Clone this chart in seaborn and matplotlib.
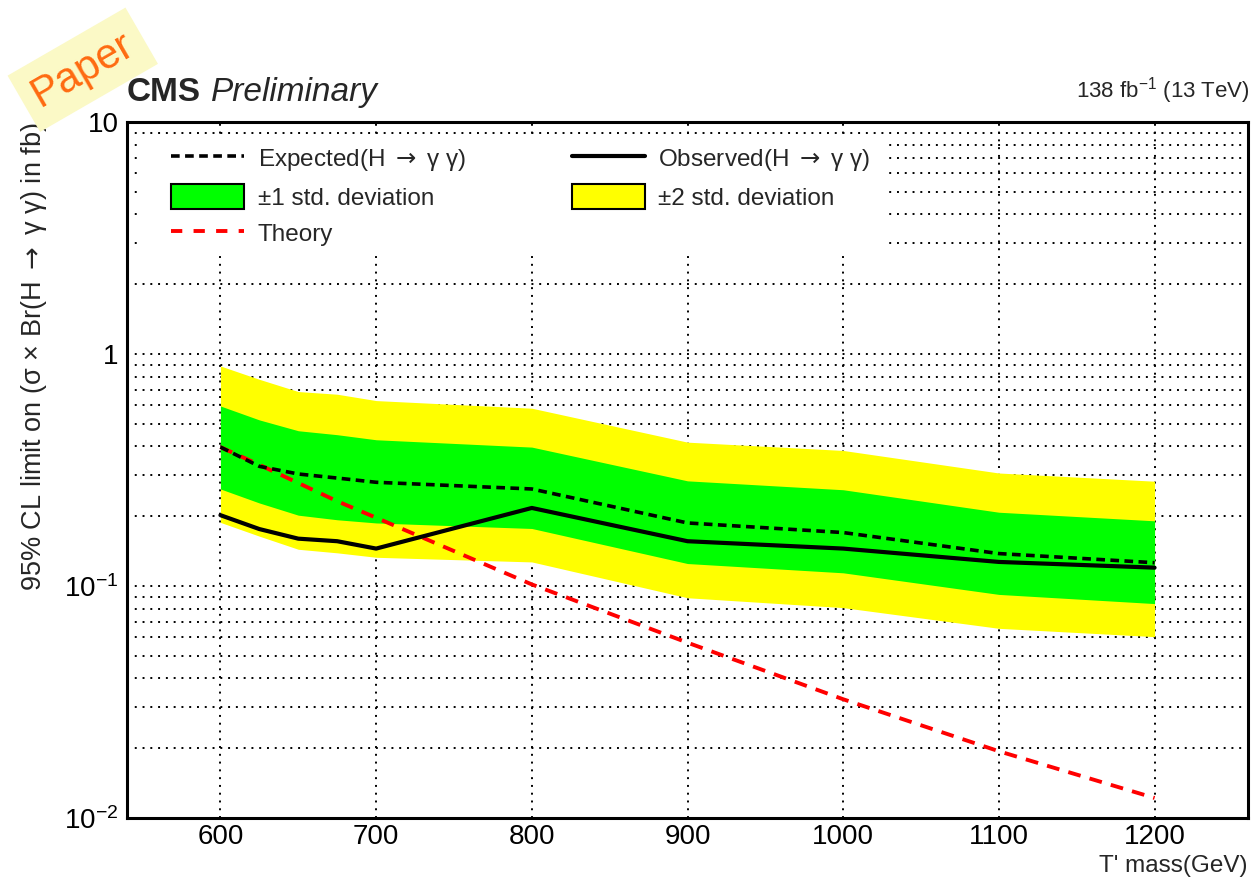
import numpy as np
import pandas as pd
import matplotlib
matplotlib.use("Agg")
import matplotlib.pyplot as plt
import seaborn as sns
from matplotlib.ticker import FixedLocator, FuncFormatter, MultipleLocator, LogLocator
from matplotlib.lines import Line2D
from matplotlib.patches import Patch, Rectangle

# T' mass points (GeV)
mass = [600, 625, 650, 675, 700, 800, 900, 1000, 1100, 1200]

# 95% CL limits on sigma x Br(H -> gamma gamma) in fb
observed = [0.202, 0.176, 0.160, 0.156, 0.145, 0.217, 0.156, 0.145, 0.127, 0.120]
expected = [0.397, 0.328, 0.304, 0.292, 0.280, 0.262, 0.187, 0.170, 0.138, 0.126]
band1_up = [0.597, 0.520, 0.467, 0.449, 0.427, 0.397, 0.284, 0.260, 0.208, 0.191]
band1_dn = [0.262, 0.228, 0.202, 0.193, 0.187, 0.177, 0.125, 0.114, 0.092, 0.084]
band2_up = [0.888, 0.778, 0.689, 0.671, 0.630, 0.584, 0.417, 0.384, 0.307, 0.283]
band2_dn = [0.188, 0.164, 0.144, 0.139, 0.133, 0.127, 0.089, 0.0807, 0.0657, 0.0605]
theory = [0.397, 0.333, 0.278, 0.232, 0.197, 0.1016, 0.057, 0.0325, 0.0194, 0.0122]

xticks = [600, 700, 800, 900, 1000, 1100, 1200]

df = pd.DataFrame({
    "mass": mass, "observed": observed, "expected": expected,
    "theory": theory,
})

sns.set_style("white")
plt.rcParams["font.family"] = ["Liberation Sans", "DejaVu Sans"]
plt.rcParams["mathtext.fontset"] = "custom"
plt.rcParams["mathtext.rm"] = "Liberation Sans"
plt.rcParams["mathtext.it"] = "Liberation Sans:italic"
plt.rcParams["mathtext.sf"] = "DejaVu Sans"

fig = plt.figure(figsize=(12.54, 8.83), dpi=100)
ax = fig.add_axes([0.1013, 0.0736, 0.8939, 0.7882])

green = "#00ff00"
yellow = "#ffff00"
exp_dash = (0, (2.4, 1.5))
th_dash = (0, (3.3, 2.4))
ARROW = r"$\mathsf{\rightarrow}$"

ax.fill_between(mass, band2_dn, band2_up, color=yellow, lw=0, zorder=2)
ax.fill_between(mass, band1_dn, band1_up, color=green, lw=0, zorder=3)

sns.lineplot(data=df, x="mass", y="expected", ax=ax, color="black", lw=2.6,
             linestyle=exp_dash, zorder=5)
sns.lineplot(data=df, x="mass", y="observed", ax=ax, color="black", lw=3.0,
             zorder=6)
sns.lineplot(data=df, x="mass", y="theory", ax=ax, color="#ff0000", lw=2.8,
             linestyle=th_dash, zorder=4)

ax.set_yscale("log")
ax.set_xlim(540, 1260)
ax.set_ylim(0.01, 10)

# ticks
ax.xaxis.set_major_locator(FixedLocator(xticks))
ax.xaxis.set_minor_locator(MultipleLocator(20))
ax.yaxis.set_major_locator(LogLocator(base=10, numticks=10))
ax.yaxis.set_minor_locator(LogLocator(base=10, subs=np.arange(2, 10), numticks=20))


def ylab(v, pos):
    e = int(round(np.log10(v)))
    if e == 0:
        return "1"
    if e == 1:
        return "10"
    return r"$10^{%d}$" % e


ax.yaxis.set_major_formatter(FuncFormatter(ylab))
ax.yaxis.set_minor_formatter(FuncFormatter(lambda v, p: ""))
ax.tick_params(axis="both", which="both", direction="in", colors="black",
               labelsize=20, width=1.5, top=False, right=False)
ax.tick_params(axis="x", which="major", length=15, pad=4)
ax.tick_params(axis="x", which="minor", length=8)
ax.tick_params(axis="y", which="major", length=24, pad=6)
ax.tick_params(axis="y", which="minor", length=12)

ax.grid(True, which="major", axis="x", color="black", lw=1.4, linestyle=(0, (1, 3)))
ax.grid(True, which="both", axis="y", color="black", lw=1.4, linestyle=(0, (1, 3)))
for line in ax.get_xgridlines() + ax.get_ygridlines():
    line.set_zorder(1.5)

for s in ax.spines.values():
    s.set_color("black")
    s.set_linewidth(2.2)
    s.set_zorder(10)

ax.set_xlabel("T' mass(GeV)", loc="right", fontsize=17.5, labelpad=4)
ax.set_ylabel("95% CL limit on (σ × Br(H " + ARROW + " γ γ) in fb)", loc="top",
              fontsize=19.5, labelpad=11)

# white legend background hiding the grid
ax.add_patch(Rectangle((0.0134, 0.813), 0.662, 0.1655, transform=ax.transAxes,
                       facecolor="white", edgecolor="none", zorder=1.8))

handles = [
    Line2D([], [], color="black", lw=2.6, linestyle=exp_dash),
    Patch(facecolor=green, edgecolor="black", lw=1.5),
    Line2D([], [], color="#ff0000", lw=2.8, linestyle=(0, (2.9, 2.9))),
    Line2D([], [], color="black", lw=3.0),
    Patch(facecolor=yellow, edgecolor="black", lw=1.5),
]
labels = [
    "Expected(H " + ARROW + " γ γ)", "±1 std. deviation", "Theory",
    "Observed(H " + ARROW + " γ γ)", "±2 std. deviation",
]
leg = ax.legend(handles, labels, ncol=2, frameon=False, fontsize=17.5,
                loc="upper left", bbox_to_anchor=(0.0309, 0.980),
                handlelength=3.0, handleheight=1.15, handletextpad=0.55,
                columnspacing=4.37, labelspacing=0.47, borderaxespad=0,
                borderpad=0.4)
leg.set_zorder(8)

# header texts
fig.text(0.1013, 0.8856, "CMS", fontsize=24, fontweight="bold", ha="left", va="baseline")
fig.text(0.1683, 0.8856, "Preliminary", fontsize=24, fontstyle="italic", ha="left", va="baseline")
fig.text(0.997, 0.890, r"138 fb$^{-1}$ (13 TeV)", fontsize=16, ha="right", va="baseline")

# corner stamp
fig.text(0.0660, 0.921, "Paper", rotation=30, color="#ff6a10", fontsize=30,
         ha="center", va="center", rotation_mode="anchor",
         bbox=dict(facecolor="#fbf9c6", edgecolor="none", pad=9))

fig.savefig("out.png", dpi=100)
